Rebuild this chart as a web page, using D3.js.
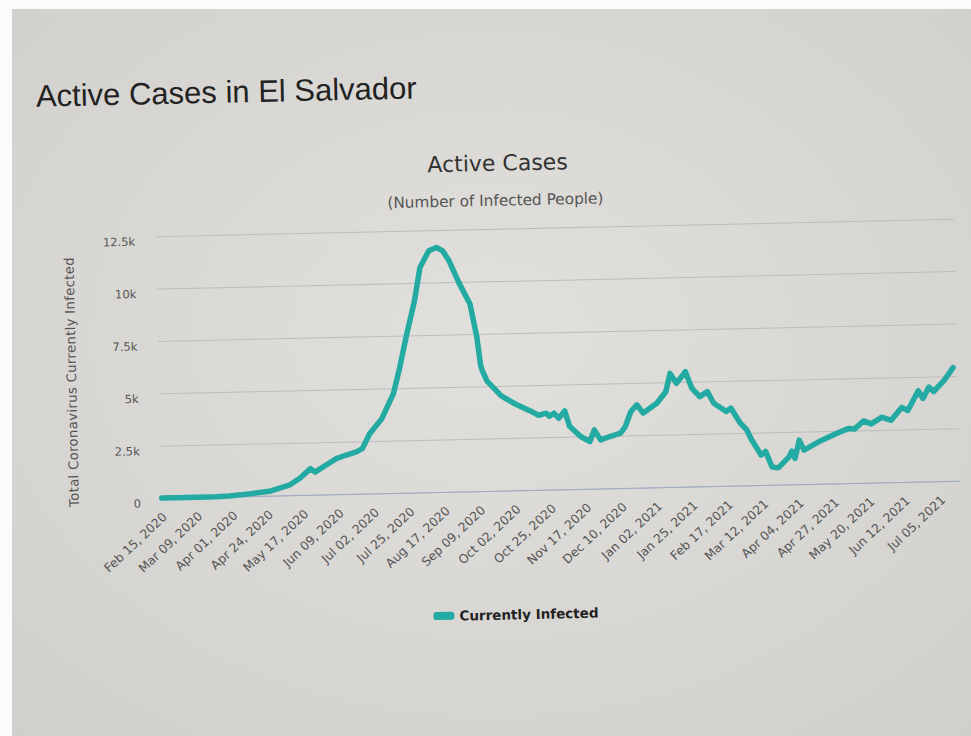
<!DOCTYPE html>
<html>
<head>
<meta charset="utf-8">
<script src="https://cdn.jsdelivr.net/npm/d3@7"></script>
<style>
  html, body { margin: 0; padding: 0; background: #ffffff; }
  svg { display: block; }
</style>
</head>
<body>
<div id="chart"></div>
<script>
// ---------- data ----------
const dates = [
  "2020-02-15","2020-03-10","2020-03-21","2020-03-30","2020-04-12","2020-04-25",
  "2020-05-08","2020-05-15","2020-05-22","2020-05-25","2020-05-31","2020-06-08",
  "2020-06-14","2020-06-21","2020-06-25","2020-06-30","2020-07-08","2020-07-16",
  "2020-07-20","2020-07-25","2020-07-31","2020-08-04","2020-08-10","2020-08-15",
  "2020-08-19","2020-08-23","2020-08-29","2020-09-05","2020-09-09","2020-09-11",
  "2020-09-12","2020-09-15","2020-09-19","2020-09-24","2020-10-03","2020-10-12",
  "2020-10-18","2020-10-23","2020-10-25","2020-10-28","2020-10-31","2020-11-04",
  "2020-11-07","2020-11-14","2020-11-20","2020-11-23","2020-11-27","2020-12-03",
  "2020-12-10","2020-12-13","2020-12-17","2020-12-21","2020-12-25","2021-01-03",
  "2021-01-09","2021-01-12","2021-01-16","2021-01-22","2021-01-26","2021-01-31",
  "2021-02-05","2021-02-09","2021-02-17","2021-02-20","2021-02-26","2021-03-02",
  "2021-03-05","2021-03-11","2021-03-14","2021-03-18","2021-03-22","2021-03-29",
  "2021-03-31","2021-04-02","2021-04-05","2021-04-08","2021-04-19","2021-04-30",
  "2021-05-07","2021-05-11","2021-05-17","2021-05-22","2021-05-29","2021-06-04",
  "2021-06-11","2021-06-15","2021-06-22","2021-06-25","2021-06-29","2021-07-02",
  "2021-07-09","2021-07-15"
];
const currentlyInfected = [
  0, 0, 5, 30, 110, 210,
  480, 800, 1250, 1080, 1350, 1700,
  1850, 2000, 2150, 2850, 3550, 4740,
  5840, 7420, 9150, 10730, 11520, 11670,
  11500, 11020, 9980, 8940, 7350, 6030,
  5760, 5240, 4920, 4520, 4120, 3800,
  3560, 3650, 3500, 3640, 3400, 3740,
  3000, 2500, 2250, 2800, 2320, 2470,
  2620, 2900, 3640, 3950, 3560, 4010,
  4550, 5420, 4940, 5480, 4680, 4280,
  4510, 3950, 3540, 3700, 2970, 2650,
  2180, 1430, 1600, 850, 800, 1300,
  1580, 1230, 2100, 1620, 2050, 2400,
  2600, 2570, 2950, 2800, 3110, 2950,
  3550, 3400, 4330, 3960, 4500, 4280,
  4800, 5400
];
const xTickLabels = [
  "Feb 15, 2020","Mar 09, 2020","Apr 01, 2020","Apr 24, 2020","May 17, 2020",
  "Jun 09, 2020","Jul 02, 2020","Jul 25, 2020","Aug 17, 2020","Sep 09, 2020",
  "Oct 02, 2020","Oct 25, 2020","Nov 17, 2020","Dec 10, 2020","Jan 02, 2021",
  "Jan 25, 2021","Feb 17, 2021","Mar 12, 2021","Apr 04, 2021","Apr 27, 2021",
  "May 20, 2021","Jun 12, 2021","Jul 05, 2021"
];
const yTickValues = [0, 2500, 5000, 7500, 10000, 12500];
const yTickLabels = ["0", "2.5k", "5k", "7.5k", "10k", "12.5k"];
const seriesName = "Currently Infected";
const pageTitle = "Active Cases in El Salvador";
const chartTitle = "Active Cases";
const chartSubtitle = "(Number of Infected People)";
const yAxisTitle = "Total Coronavirus Currently Infected";

// ---------- layout ----------
const W = 971, H = 736;
const plot = { left: 159, right: 955, top: 229, bottom: 491 };
const lineColor = "#23aaa2";
const chartFont = "DejaVu Sans, Verdana, sans-serif";
const parseISO = d3.utcParse("%Y-%m-%d");
const parseLabel = d3.utcParse("%b %d, %Y");

const svg = d3.select("#chart").append("svg")
  .attr("width", W).attr("height", H);

// photo-like screen background
const defs = svg.append("defs");
const grad = defs.append("radialGradient").attr("id", "bg")
  .attr("cx", "50%").attr("cy", "45%").attr("r", "75%");
grad.append("stop").attr("offset", "0%").attr("stop-color", "#e2e0dd");
grad.append("stop").attr("offset", "100%").attr("stop-color", "#d1cfcb");
svg.append("rect").attr("width", W).attr("height", H).attr("fill", "#fbfbfb");
svg.append("rect").attr("x", 12).attr("y", 9).attr("width", W - 12).attr("height", H - 9)
  .attr("fill", "url(#bg)");

const g = svg.append("g").attr("transform", "rotate(-1.25 485 368)");

const x = d3.scaleUtc()
  .domain([parseISO(dates[0]), parseISO(dates[dates.length - 1])])
  .range([plot.left, plot.right - 2]);
const y = d3.scaleLinear().domain([0, 12500]).range([plot.bottom, plot.top]);

// page title
g.append("text").attr("x", 42).attr("y", 97)
  .attr("font-family", "Liberation Sans, Arial, sans-serif")
  .attr("font-size", 31).attr("fill", "#222").text(pageTitle);

// chart title + subtitle
g.append("text").attr("x", 502).attr("y", 171).attr("text-anchor", "middle")
  .attr("font-family", chartFont).attr("font-size", 22)
  .attr("fill", "#333").text(chartTitle);
g.append("text").attr("x", 499).attr("y", 206).attr("text-anchor", "middle")
  .attr("font-family", chartFont).attr("font-size", 15.3)
  .attr("fill", "#555").text(chartSubtitle);

// y grid + labels
const yAxis = d3.axisLeft(y).tickValues(yTickValues)
  .tickFormat((d, i) => yTickLabels[i]).tickSize(-(plot.right + 2 - plot.left)).tickPadding(21);
const ya = g.append("g").attr("transform", `translate(${plot.left},0)`).call(yAxis);
ya.select(".domain").remove();
ya.selectAll(".tick line").attr("stroke", "#bcbcc0").attr("stroke-width", 1);
ya.selectAll(".tick text").attr("font-family", chartFont)
  .attr("font-size", 11.5).attr("fill", "#555").attr("dy", "0.75em");

// y axis title
g.append("text")
  .attr("transform", `translate(76,373) rotate(-90)`)
  .attr("text-anchor", "middle")
  .attr("font-family", chartFont).attr("font-size", 13.3)
  .attr("letter-spacing", 0.3).attr("fill", "#555").text(yAxisTitle);

// x axis
const xTicks = xTickLabels.map(parseLabel);
const xAxis = d3.axisBottom(x).tickValues(xTicks)
  .tickFormat((d, i) => xTickLabels[i]).tickSize(0).tickPadding(0);
const xa = g.append("g").attr("transform", `translate(0,${plot.bottom})`).call(xAxis);
xa.select(".domain").attr("stroke", "#9faac4").attr("stroke-width", 1)
  .attr("d", `M${plot.left},0.5H${plot.right + 2}`);
xa.selectAll(".tick text")
  .attr("font-family", chartFont).attr("font-size", 12.3)
  .attr("fill", "#555").attr("text-anchor", "end")
  .attr("dy", 0).attr("y", 0)
  .attr("transform", "translate(5,20) rotate(-42)");

// line
const line = d3.line()
  .x((d, i) => x(parseISO(dates[i])))
  .y(d => y(d));
g.append("path").datum(currentlyInfected)
  .attr("fill", "none").attr("stroke", lineColor)
  .attr("stroke-width", 5.5).attr("stroke-linejoin", "round").attr("stroke-linecap", "round")
  .attr("d", line);

// legend
const lg = g.append("g").attr("transform", "translate(428,615)");
lg.append("rect").attr("x", 0).attr("y", -4).attr("width", 21).attr("height", 8)
  .attr("rx", 3).attr("fill", lineColor);
lg.append("text").attr("x", 26).attr("y", 5)
  .attr("font-family", chartFont).attr("font-weight", "bold")
  .attr("font-size", 13.5).attr("fill", "#222").text(seriesName);
</script>
</body>
</html>
